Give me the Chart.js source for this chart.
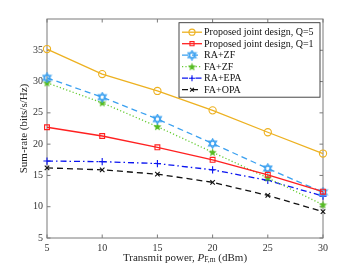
<!DOCTYPE html>
<html lang="en">
<head>
<meta charset="UTF-8">
<title>Sum-rate vs transmit power</title>
<script src="https://cdn.jsdelivr.net/npm/chart.js"></script>
<style>
  html, body { margin: 0; padding: 0; background: #fff; }
  #wrap { width: 357px; height: 268px; position: relative; }
</style>
</head>
<body>
<div id="wrap"><canvas id="chart"></canvas></div>
<script>
// data
const powers = [5, 10, 15, 20, 25, 30];
const jointQ5 = [35.2, 31.2, 28.5, 25.4, 21.9, 18.5];
const jointQ1 = [22.7, 21.3, 19.5, 17.5, 15.1, 12.4];
const raZF = [30.6, 27.5, 24.0, 20.1, 16.1, 12.3];
const faZF = [29.8, 26.6, 22.8, 18.7, 14.6, 10.3];
const raEPA = [17.3, 17.2, 16.9, 15.9, 14.2, 11.7];
const faOPA = [16.2, 15.9, 15.2, 13.9, 11.8, 9.2];
const xTicks = [5, 10, 15, 20, 25, 30];
const yTicks = [5, 10, 15, 20, 25, 30, 35];

const serif = '"Liberation Serif", "DejaVu Serif", serif';

// small marker images
function hexagram(color) {
    const c = document.createElement('canvas');
    c.width = 11; c.height = 11;
    const g = c.getContext('2d');
    g.strokeStyle = color; g.lineWidth = 1.2;
    const r = 4.6, cx = 5.5, cy = 5.5;
    for (let k = 0; k < 2; k++) {
        g.beginPath();
        for (let i = 0; i < 3; i++) {
            const a = -Math.PI / 2 + k * Math.PI + i * 2 * Math.PI / 3;
            const px = cx + r * Math.cos(a), py = cy + r * Math.sin(a);
            i ? g.lineTo(px, py) : g.moveTo(px, py);
        }
        g.closePath(); g.stroke();
    }
    return c;
}
function pentagram(color) {
    const c = document.createElement('canvas');
    c.width = 9; c.height = 9;
    const g = c.getContext('2d');
    g.fillStyle = color;
    g.beginPath();
    for (let i = 0; i < 10; i++) {
        const r = i % 2 ? 1.9 : 4.3;
        const a = -Math.PI / 2 + i * Math.PI / 5;
        const px = 4.5 + r * Math.cos(a), py = 4.8 + r * Math.sin(a);
        i ? g.lineTo(px, py) : g.moveTo(px, py);
    }
    g.closePath(); g.fill();
    return c;
}

const series = [
    { label: 'Proposed joint design, Q=5', data: jointQ5, color: '#EDB120', dash: [], point: 'circle', radius: 3.6 },
    { label: 'Proposed joint design, Q=1', data: jointQ1, color: '#FF2020', dash: [], point: 'rect', radius: 3.4 },
    { label: 'RA+ZF', data: raZF, color: '#3AA0F0', dash: [6, 4], point: hexagram('#3AA0F0'), radius: 4 },
    { label: 'FA+ZF', data: faZF, color: '#66CC33', dash: [1.2, 2.2], point: pentagram('#55BB22'), radius: 4 },
    { label: 'RA+EPA', data: raEPA, color: '#0A14F0', dash: [6, 3, 1.5, 3], point: 'cross', radius: 3.6 },
    { label: 'FA+OPA', data: faOPA, color: '#111111', dash: [6, 4], point: 'crossRot', radius: 3.2 }
];

const datasets = series.map(s => ({
    label: s.label,
    data: powers.map((p, i) => ({ x: p, y: s.data[i] })),
    borderColor: s.color,
    backgroundColor: s.point === 'circle' || s.point === 'rect' ? 'rgba(255,255,255,0)' : s.color,
    borderWidth: 1.3,
    borderDash: s.dash,
    pointStyle: s.point,
    pointRadius: s.radius,
    pointBorderWidth: 1.1,
    pointBorderColor: s.color,
    pointBackgroundColor: 'rgba(255,255,255,0)',
    tension: 0,
    clip: false
}));

// frame with inward ticks, custom x title, legend inside the axes
const framePlugin = {
    id: 'frame',
    beforeDatasetsDraw(chart) {
        const { ctx, chartArea: a, scales } = chart;
        ctx.save();
        ctx.strokeStyle = '#7a7a7a';
        ctx.lineWidth = 1;
        ctx.strokeRect(a.left, a.top, a.right - a.left, a.bottom - a.top);
        ctx.beginPath();
        xTicks.forEach(v => {
            const x = scales.x.getPixelForValue(v);
            ctx.moveTo(x, a.bottom); ctx.lineTo(x, a.bottom - 3.5);
            ctx.moveTo(x, a.top); ctx.lineTo(x, a.top + 3.5);
        });
        yTicks.forEach(v => {
            const y = scales.y.getPixelForValue(v);
            ctx.moveTo(a.left, y); ctx.lineTo(a.left + 3.5, y);
            ctx.moveTo(a.right, y); ctx.lineTo(a.right - 3.5, y);
        });
        ctx.stroke();
        ctx.restore();
    },
    afterDraw(chart) {
        const { ctx, chartArea: a } = chart;
        ctx.save();
        // x axis title with subscript
        const parts = [
            { t: 'Transmit power, ', f: '11px ' + serif, dy: 0 },
            { t: 'P', f: 'italic 11px ' + serif, dy: 0 },
            { t: 'F,m', f: '7.5px ' + serif, dy: 2.5 },
            { t: ' (dBm)', f: '11px ' + serif, dy: 0 }
        ];
        let total = 0;
        parts.forEach(p => { ctx.font = p.f; p.w = ctx.measureText(p.t).width; total += p.w; });
        let x = (a.left + a.right) / 2 - total / 2;
        ctx.fillStyle = '#262626';
        ctx.textBaseline = 'middle';
        parts.forEach(p => { ctx.font = p.f; ctx.fillText(p.t, x, 258 + p.dy); x += p.w; });

        // legend
        const boxL = 179, boxR = a.right - 3, boxT = a.top + 3.7, rowH = 11.5;
        const boxB = boxT + 74.5;
        ctx.fillStyle = '#fff';
        ctx.fillRect(boxL, boxT, boxR - boxL, boxB - boxT);
        ctx.strokeStyle = '#333';
        ctx.lineWidth = 0.9;
        ctx.strokeRect(boxL, boxT, boxR - boxL, boxB - boxT);
        ctx.font = '10px ' + serif;
        ctx.textBaseline = 'middle';
        chart.data.datasets.forEach((ds, i) => {
            const y = boxT + 9.5 + i * rowH;
            ctx.save();
            ctx.strokeStyle = ds.borderColor;
            ctx.lineWidth = 1.3;
            ctx.setLineDash(ds.borderDash);
            ctx.beginPath(); ctx.moveTo(boxL + 3, y); ctx.lineTo(boxL + 23, y); ctx.stroke();
            ctx.setLineDash([]);
            ctx.lineWidth = 1.1;
            ctx.fillStyle = 'rgba(255,255,255,0)';
            Chart.helpers.drawPoint(ctx, { pointStyle: ds.pointStyle, radius: ds.pointRadius * 0.85, rotation: 0, borderWidth: 1.1 }, boxL + 13, y);
            ctx.restore();
            ctx.fillStyle = '#111';
            ctx.fillText(ds.label, boxL + 25, y + 0.5);
        });
        ctx.restore();
    }
};

new Chart(document.getElementById('chart'), {
    type: 'line',
    data: { datasets },
    options: {
        responsive: true,
        maintainAspectRatio: false,
        animation: false,
        events: [],
        layout: { padding: { left: 0, right: 34, top: 19, bottom: 0 } },
        plugins: { legend: { display: false }, tooltip: { enabled: false } },
        scales: {
            x: {
                type: 'linear', min: 5, max: 30,
                afterBuildTicks: s => { s.ticks = xTicks.map(v => ({ value: v })); },
                afterFit: s => { s.height = 30; },
                grid: { display: false, drawTicks: false }, border: { display: false },
                ticks: { font: { family: serif, size: 10 }, color: '#333', padding: 4, maxRotation: 0 }
            },
            y: {
                type: 'linear', min: 5, max: 40,
                afterBuildTicks: s => { s.ticks = yTicks.map(v => ({ value: v })); },
                afterFit: s => { s.width = 47; },
                grid: { display: false, drawTicks: false }, border: { display: false },
                ticks: { font: { family: serif, size: 10 }, color: '#333', padding: 4 },
                title: { display: true, text: 'Sum-rate (bits/s/Hz)', font: { family: serif, size: 11 }, color: '#262626', padding: { top: 18, bottom: 0 } }
            }
        }
    },
    plugins: [framePlugin]
});
</script>
</body>
</html>
